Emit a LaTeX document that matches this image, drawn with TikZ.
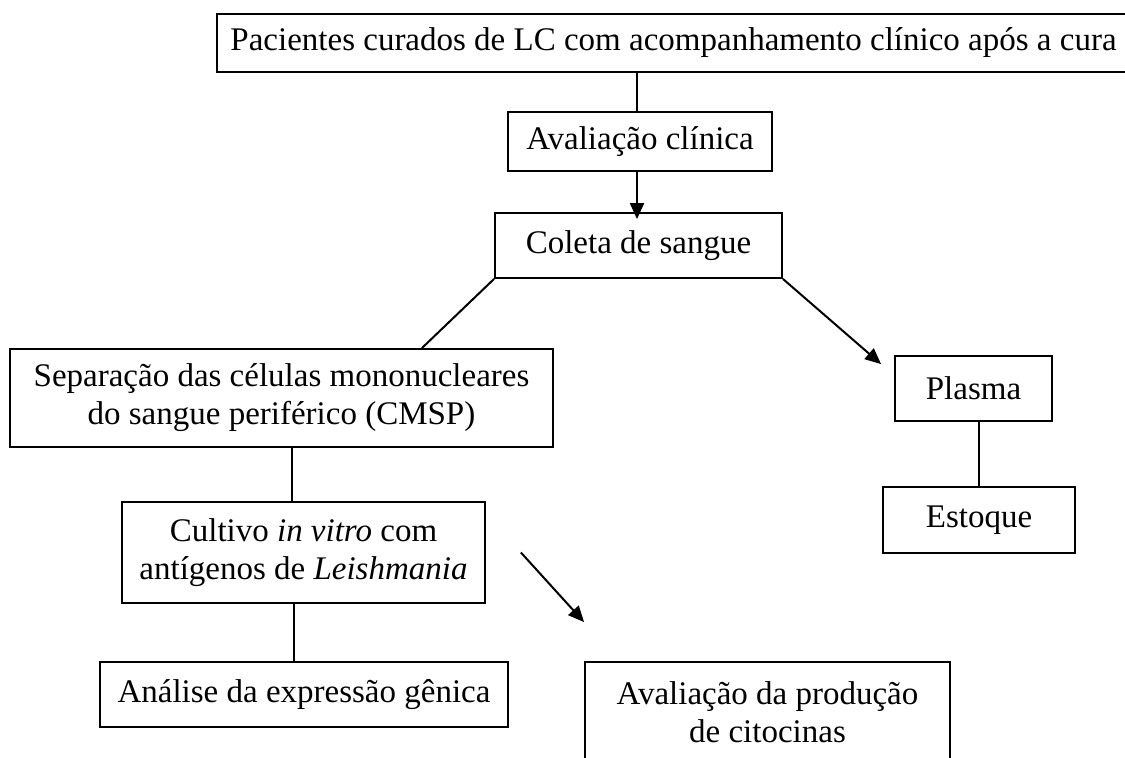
\documentclass[tikz,border=0pt]{standalone}
\usepackage{fontspec}
\setmainfont{Liberation Serif}
\usetikzlibrary{arrows.meta}

\begin{document}
\begin{tikzpicture}[x=0.5pt,y=-0.5pt,line width=1pt,>={Triangle[length=8pt,width=7pt]},
    box/.style={draw,line width=0.9pt,inner sep=0pt,align=center,font=\fontsize{16.5}{19}\selectfont}]

    \useasboundingbox (0,0) rectangle (1125,757);
    \clip (0,0) rectangle (1125,757);

    % The boxes
    \node [box,minimum width=456.5pt,minimum height=29pt] at (673.5,43) (pac) {Pacientes curados de LC com acompanhamento clínico após a cura};
    \node [box,minimum width=132pt,minimum height=29.5pt] at (640,141.5) (aval) {Avaliação clínica};
    \node [box,minimum width=143.5pt,minimum height=32.5pt] at (638.5,245.5) (coleta) {Coleta de sangue};

    \node [box,minimum width=271.5pt,minimum height=49pt] at (281.5,398) (sep) {Separação das células mononucleares\\do sangue periférico (CMSP)};
    \node [box,minimum width=181.5pt,minimum height=50.5pt] at (303.5,552.5) (cultivo) {Cultivo \textit{in vitro} com\\antígenos de \textit{Leishmania}};
    \node [box,minimum width=204pt,minimum height=32.5pt] at (304,694.5) (analise) {Análise da expressão gênica};
    \node [box,minimum width=182.5pt,minimum height=50pt] at (767.5,712) (citoc) {Avaliação da produção\\de citocinas};

    \node [box,minimum width=78.5pt,minimum height=32.5pt] at (973.5,388.5) (plasma) {Plasma};
    \node [box,minimum width=96pt,minimum height=33pt] at (979,520) (estoque) {Estoque};

    % Connectors
    \path[-]
    ([xshift=-1.5pt]aval.north |- pac.south) edge ([xshift=-1.5pt]aval.north)
    (coleta.south west) edge ([xshift=-66pt]sep.north east)
    ([xshift=5pt]sep.south) edge ([xshift=5pt]sep.south |- cultivo.north)
    ([xshift=-5pt]cultivo.south) edge ([xshift=-5pt]cultivo.south |- analise.north)
    (plasma.south -| estoque.north) edge (estoque.north);

    \path[->]
    ([xshift=-1.5pt]aval.south) edge ([xshift=-1.5pt,yshift=-3.5pt]aval.south |- coleta.north)
    (coleta.south east) edge ([xshift=-6.5pt,yshift=-4.5pt]plasma.north west)
    ([xshift=17.5pt]cultivo.east) edge ([yshift=19.5pt]citoc.north west);
\end{tikzpicture}
\end{document}
